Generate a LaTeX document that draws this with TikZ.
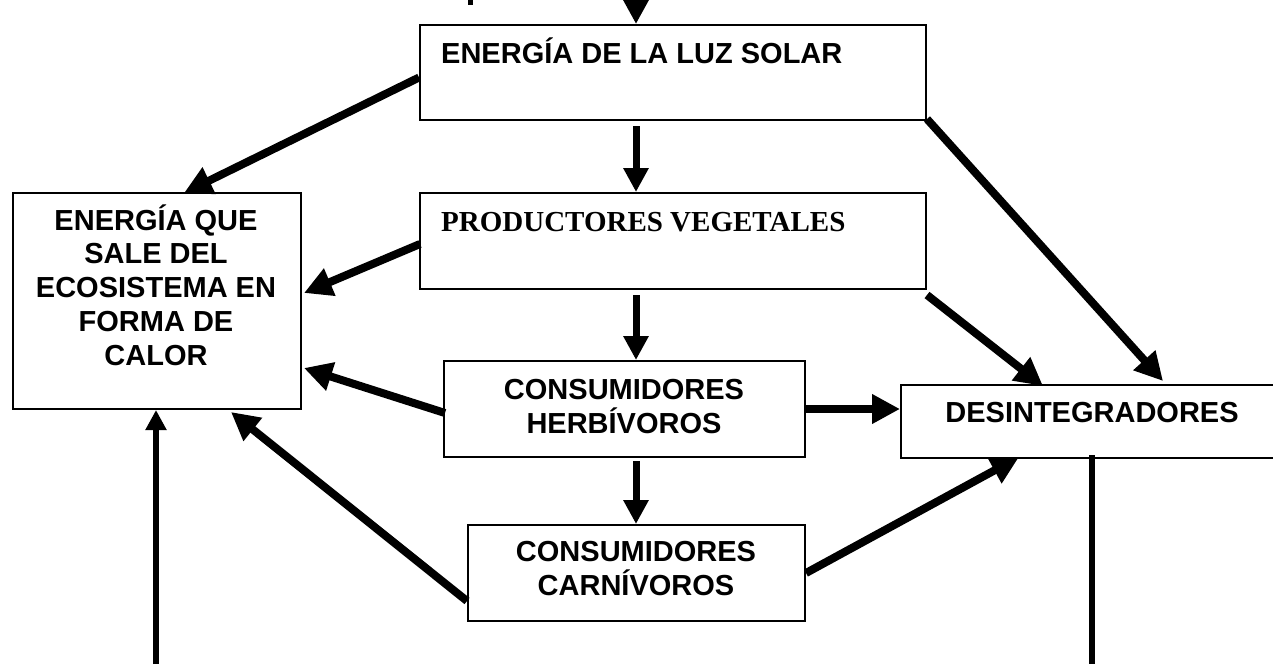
\documentclass[tikz,border=0pt]{standalone}
\usepackage{fontspec}
\setmainfont{Liberation Sans}
\newfontfamily\timesfont{Liberation Serif}
\usetikzlibrary{arrows.meta,calc}
\tikzset{
  box/.style={draw=black, line width=2pt, fill=white, inner sep=0pt, anchor=north west, rectangle},
  lbl/.style={inner sep=0pt, font=\fontsize{29}{34}\selectfont\bfseries},
  thick arrow/.style={line width=8pt, -{Triangle[length=28pt,width=28pt]}},
  vert arrow/.style={line width=7pt, -{Triangle[length=24pt,width=24pt]}},
  small arrow/.style={line width=6.5pt, -{Triangle[length=20pt,width=20pt]}},
  plain line/.style={line width=5.5pt}
}
\begin{document}
\begin{tikzpicture}[x=1pt,y=-1pt]
\useasboundingbox (0,0) rectangle (1273,664);
\fill[white] (0,0) rectangle (1273,664);
\clip (0,0) rectangle (1273,664);

% boxes
\node[box, minimum width=506pt, minimum height=95pt] (luz) at (419,24) {};
\node[box, minimum width=506pt, minimum height=96pt] (prod) at (419,192) {};
\node[box, minimum width=361pt, minimum height=96pt] (herb) at (443,360) {};
\node[box, minimum width=337pt, minimum height=96pt] (carn) at (467,524) {};
\node[box, minimum width=288pt, minimum height=216pt] (calor) at (12,192) {};
\node[box, minimum width=400pt, minimum height=73pt] (desint) at (900,384) {};

% texts
\node[lbl, anchor=base west] (tluz) at (441,63) {ENERGÍA DE LA LUZ SOLAR};
\node[lbl, anchor=base west, font=\fontsize{29}{34}\selectfont\timesfont\bfseries] (tprod) at (441,231) {PRODUCTORES VEGETALES};
\node[lbl, anchor=base, align=center] (therb) at (624,433) {CONSUMIDORES\\HERBÍVOROS};
\node[lbl, anchor=base, align=center] (tcarn) at (636,595) {CONSUMIDORES\\CARNÍVOROS};
\node[lbl, anchor=base, align=center, font=\fontsize{29}{33.75}\selectfont\bfseries] (tcalor) at (156,365) {ENERGÍA QUE\\SALE DEL\\ECOSISTEMA EN\\FORMA DE\\CALOR};
\node[lbl, anchor=base] (tdes) at (1092,422) {DESINTEGRADORES};

% fragment at top
\fill[black] (468,0) rectangle (473,5);

% free ends
\coordinate (topin) at (636,0);
\coordinate (leftin) at (156,664);
\coordinate (rightout) at (1092,664);

% central vertical arrows
\draw[vert arrow] (topin) -- (topin |- luz.north);
\draw[vert arrow] ($(luz.south -| topin)+(0,5)$) -- (topin |- prod.north);
\draw[vert arrow] ($(prod.south -| topin)+(0,5)$) -- (topin |- herb.north);
\draw[vert arrow] ($(herb.south -| topin)+(0,3)$) -- (topin |- carn.north);

% to the heat box
\draw[thick arrow] ($(luz.west)+(0,5)$) -- ($(calor.north)+(27,1)$);
\draw[thick arrow] ($(prod.west)+(1,3)$) -- ($(calor.east)+(2,-8)$);
\draw[thick arrow] ($(herb.west)+(2,4)$) -- ($(calor.east)+(2,67)$);
\draw[thick arrow] ($(carn.west)+(0,28)$) -- ($(calor.south)+(74,2)$);
\draw[small arrow] (leftin) -- (leftin |- calor.south);

% to the decomposers
\draw[thick arrow] (herb.east) -- (herb.east -| desint.west);
\draw[thick arrow] (carn.east) -- ($(desint.south west)+(119,-2)$);
\draw[thick arrow] ($(prod.south east)+(0,5)$) -- ($(desint.north west)+(143,2)$);
\draw[thick arrow] ($(luz.south east)+(0,-2)$) -- ($(desint.north west)+(263,-3)$);
\draw[plain line] ($(desint.south west)+(192,-4)$) -- (rightout);
\end{tikzpicture}
\end{document}
